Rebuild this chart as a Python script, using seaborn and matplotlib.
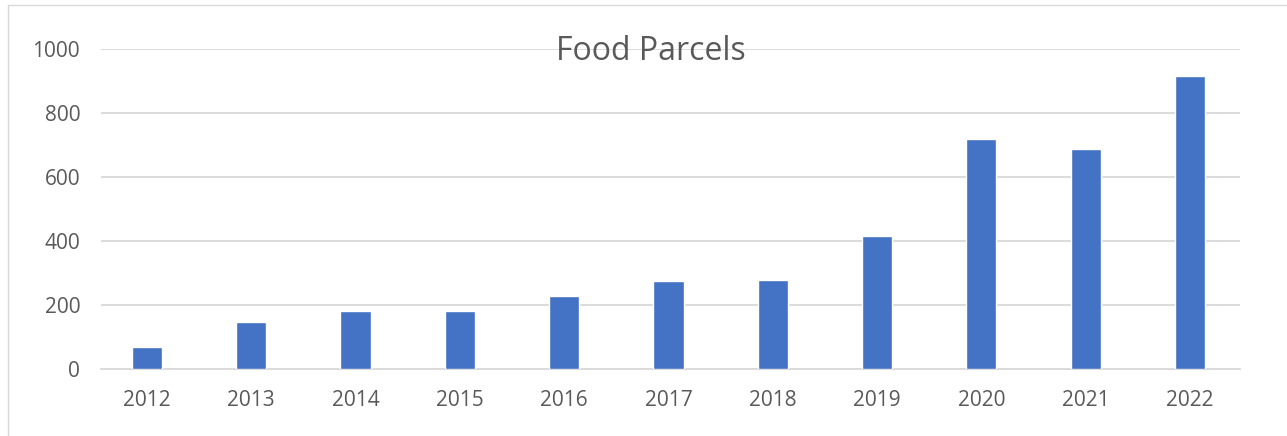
import matplotlib.pyplot as plt
import matplotlib.patches as mpatches
import pandas as pd
import seaborn as sns

years = ['2012', '2013', '2014', '2015', '2016', '2017', '2018', '2019', '2020', '2021', '2022']
parcels = [68, 146, 180, 182, 229, 275, 277, 415, 718, 686, 915]
yticks = [0, 200, 400, 600, 800, 1000]

dat = pd.DataFrame(data={'year': years, 'parcels': parcels})

sns.set_style('white')
plt.rcParams['font.family'] = ['Open Sans', 'DejaVu Sans']

W, H = 1287, 436
fig = plt.figure(figsize=(W / 100, H / 100), dpi=100)
# plot area in pixels: x 101..1240, y 49..369 from top
ax = fig.add_axes([101 / W, (H - 369) / H, (1240 - 101) / W, 320 / H])

sns.barplot(data=dat, x='year', y='parcels', color='#4472C4', width=0.29,
            saturation=1, ax=ax, zorder=3)

ax.set_ylim(0, 1000)
ax.set_xlim(-0.44, 10.48)
ax.set_yticks(yticks)
ax.set_yticklabels([str(v) for v in yticks])
ax.yaxis.grid(True, color='#d9d9d9', lw=1.3, zorder=0)
ax.set_axisbelow(True)
for s in ['top', 'right', 'left']:
    ax.spines[s].set_visible(False)
ax.spines['bottom'].set_color('#d9d9d9')
ax.spines['bottom'].set_linewidth(1.3)
ax.tick_params(axis='both', length=0, labelsize=15, labelcolor='#595959')
ax.tick_params(axis='y', pad=15)
ax.tick_params(axis='x', pad=15)
ax.set_xlabel('')
ax.set_ylabel('')

# title sits on the top gridline, centred on the chart frame
ax.text(0.483, 966, 'Food Parcels', transform=ax.get_yaxis_transform(),
        ha='center', va='baseline', fontsize=23, color='#595959', zorder=5)

# chart frame
fig.patches.append(mpatches.Rectangle((8 / W, -0.1), 1.2, (H - 5) / H + 0.1,
                                      transform=fig.transFigure, fill=False,
                                      edgecolor='#d9d9d9', lw=1))

plt.savefig('out.png', dpi=100)
